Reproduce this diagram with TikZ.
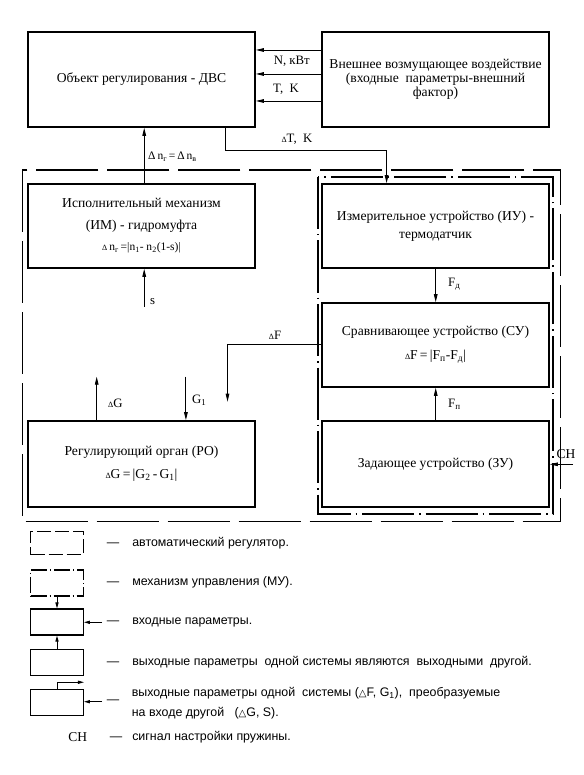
\documentclass[tikz,border=0pt]{standalone}
\usepackage{fontspec}
\setmainfont{Liberation Serif}
\newfontfamily\legfont{Liberation Sans}
\newfontfamily\dvfont{DejaVu Sans}
\usetikzlibrary{arrows.meta}
\newcommand\sdelta{{\fontsize{8}{8}\selectfont Δ}}
\newcommand\wtri{{\dvfont\fontsize{10}{10}\selectfont △}}
\begin{document}
\begin{tikzpicture}[x=1pt,y=-1pt,
  box/.style={draw, line width=1.6pt, minimum width=227pt, align=center, inner sep=0pt, font=\fontsize{13.6}{15}\selectfont},
  arr/.style={line width=0.9pt, -{Triangle[length=8pt,width=3.6pt]}},
  larr/.style={line width=0.9pt, -{Triangle[length=6pt,width=3.2pt]}},
  lbl/.style={font=\fontsize{12.8}{14}\selectfont, inner sep=0pt},
  autoreg/.style={line width=1.3pt, dash pattern=on 62pt off 9pt},
  mu/.style={line width=1.3pt, dash pattern=on 52pt off 5pt on 1.5pt off 5pt},
  legbox/.style={draw, line width=1.3pt, minimum width=52.6pt, minimum height=26pt, inner sep=0pt},
  legtext/.style={font=\legfont\fontsize{12.4}{14}\selectfont, anchor=west, inner sep=0pt},
]
\useasboundingbox (0,0) rectangle (583,775);
\fill[white] (0,0) rectangle (583,775);

% main boxes
\node[box, minimum height=95pt] (obj) at (141.5,79.5) {Объект регулирования - ДВС};
\node[box, minimum height=95pt, font=\fontsize{13.6}{14}\selectfont] (ext) at (435.5,79.5) {Внешнее возмущающее воздействие\\(входные\ \ параметры-внешний\\фактор)};
\node[box, minimum height=84pt] (im) at (141.5,226) {Исполнительный механизм\\[7pt](ИМ) - гидромуфта\\[6pt]{\fontsize{11.5}{13}\selectfont \sdelta\,n\textsubscript{г}\,=|n\textsubscript{1}- n\textsubscript{2}(1-s)|}};
\node[box, minimum height=84pt] (iu) at (435.5,226) {Измерительное устройство (ИУ) -\\[3pt]термодатчик};
\node[box, minimum height=84pt] (su) at (435.5,345) {Сравнивающее устройство (СУ)\\[9pt]\sdelta F\,=\,|F\textsubscript{п}-F\textsubscript{д}|};
\node[box, minimum height=86pt] (zu) at (435.5,464) {Задающее устройство (ЗУ)};
\node[box, minimum height=86pt] (ro) at (141.5,464) {Регулирующий орган (РО)\\[8pt]\sdelta G\,=\,|G\textsubscript{2}\,-\,G\textsubscript{1}|};

% frames
\draw[autoreg] (22.3,170) rectangle (560.6,521.7);
\draw[mu] (318,177) rectangle (553,514);

% external -> object
\draw[arr] (ext.west |- 0,50) -- (obj.east |- 0,50);
\draw[arr] (ext.west |- 0,74) -- (obj.east |- 0,74);
\draw[arr] (ext.west |- 0,101) -- (obj.east |- 0,101);
\node[lbl] (lN) at (291.8,61.7) {N, кВт};
\node[lbl] (lT) at (286,89) {T,\ \ K};

% object -> IU
\draw[arr] (obj.south -| 225.6,0) -- ++(0,22.3) -| (iu.north -| 386.6,0);
\node[lbl] (lTK) at (297,139) {\sdelta T,\ \ K};

% IM -> object
\draw[arr] (im.north -| 144.2,0) -- (obj.south -| 144.2,0);
\node[lbl, anchor=west, font=\fontsize{11.5}{13}\selectfont] (lng) at (148,157) {Δ\,n\textsubscript{г}\,=\,Δ\,n\textsubscript{в}};

% s -> IM
\coordinate (s0) at (144.2,306.7);
\draw[arr] (s0) -- (im.south -| s0);
\node[lbl, anchor=west] (ls) at (150,301.5) {s};

% IU -> SU, ZU -> SU
\draw[arr] (iu.south -| 435.7,0) -- (su.north -| 435.7,0);
\node[lbl, anchor=west] (lFd) at (448,284) {F\textsubscript{д}};
\draw[arr] (zu.north -| 435.7,0) -- (su.south -| 435.7,0);
\node[lbl, anchor=west] (lFp) at (448,404) {F\textsubscript{п}};

% SU -> dF
\coordinate (dF) at (227.5,401.7);
\draw[arr] (su.west |- 0,344.3) -| (dF);
\node[lbl] (ldF) at (275,335) {\sdelta F};

% RO dG, G1
\coordinate (dG) at (96.7,376.7);
\draw[arr] (ro.north -| dG) -- (dG);
\node[lbl, anchor=west] (ldG) at (108,403) {\sdelta G};
\coordinate (g1) at (185.9,376.7);
\draw[arr] (g1) -- (ro.north -| g1);
\node[lbl, anchor=west] (lG1) at (192,400) {G\textsubscript{1}};

% CH -> ZU
\coordinate (ch) at (573,464.3);
\draw[arr] (ch) -- (zu.east |- ch);
\node[lbl, font=\fontsize{13.5}{15}\selectfont] (lch) at (566,454) {СН};

% legend
\node[legbox, dash pattern=on 14pt off 4pt, minimum height=23pt] (L1) at (57,543) {};
\node[legbox, dash pattern=on 16pt off 3pt on 1pt off 3pt] (L2) at (57,583) {};
\node[legbox] (L3) at (57,622) {};
\node[legbox] (L4) at (57,662.3) {};
\node[legbox] (L5) at (57,702.5) {};
\draw[larr] (L2.south) -- (L3.north);
\draw[larr] (L4.north) -- (L3.south);
\draw[larr] (L5.north) |- ([yshift=6.6pt]L5.north east);
\coordinate (i3) at (102,622.3);
\draw[larr] (i3) -- (L3.east |- i3);
\coordinate (i5) at (102,701.7);
\draw[larr] (i5) -- (L5.east |- i5);

\node[legtext] (t1) at (106.7,542.7) {—\hspace{13pt}автоматический регулятор.};
\node[legtext] (t2) at (106.7,582) {—\hspace{13pt}механизм управления (МУ).};
\node[legtext] (t3) at (106.7,622) {—\hspace{13pt}входные параметры.};
\node[legtext] (t4) at (106.7,662) {—\hspace{13pt}выходные параметры\ \ одной системы являются\ \ выходными\ \ другой.};
\node[legtext] (d5) at (106.7,701.7) {—};
\node[legtext, align=left, font=\legfont\fontsize{12.4}{19.4}\selectfont] (t5) at (131.7,703) {выходные параметры одной\ \ системы (\wtri F, G\textsubscript{1}),\ \ преобразуемые\\на входе другой\ \ \ (\wtri G, S).};
\node[lbl, font=\fontsize{13.5}{15}\selectfont] (c6) at (77.7,736.7) {СН};
\node[legtext] (t6) at (109.7,736.7) {—\hspace{10pt}сигнал настройки пружины.};
\end{tikzpicture}
\end{document}
